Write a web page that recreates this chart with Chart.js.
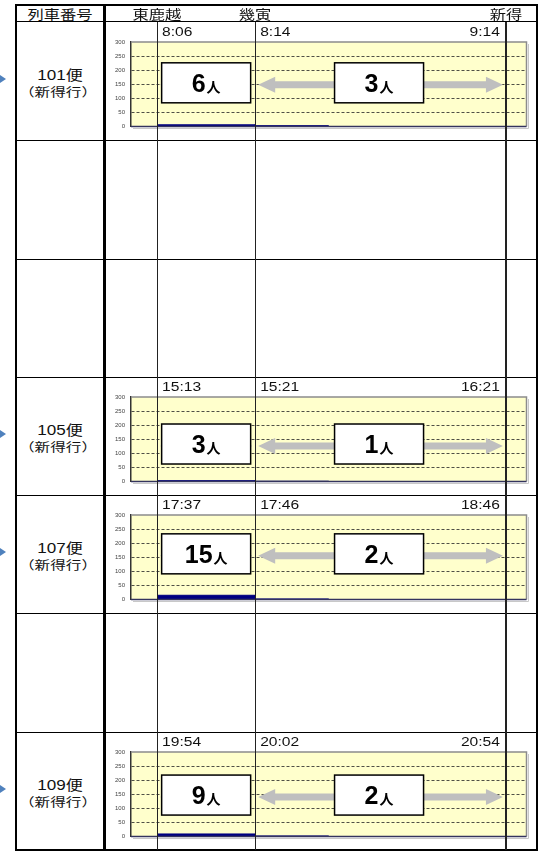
<!DOCTYPE html>
<html>
<head>
<meta charset="utf-8">
<script src="https://cdn.jsdelivr.net/npm/chart.js@4.4.1/dist/chart.umd.min.js"></script>
<style>
  body { margin: 0; background: #fff; width: 539px; height: 852px; overflow: hidden; position: relative;
         font-family: "Liberation Sans", "Noto Sans CJK JP", sans-serif; color: #111; }
  .ln { position: absolute; background: #000; }
  .txt { position: absolute; white-space: nowrap; transform: translate(-50%, -50%) scaleX(1.22); }
  .dir { font-family: "Noto Sans CJK JP", sans-serif; }
  canvas { position: absolute; }
  .tri { position: absolute; left: 0; width: 0; height: 0; border-top: 4px solid transparent;
         border-bottom: 4px solid transparent; border-left: 6px solid #4F81BD; }
</style>
</head>
<body>
<script>
// table content
const stations = ['東鹿越', '幾寅', '新得'];
const stationAxis = [6.6, 31.4, 94.8];      // where each station sits on the x axis
const rowTrains = ['101便', null, null, '105便', '107便', null, '109便'];
const direction = '（新得行）';

// per train: times at each station and riders on each leg
const times101 = ['8:06', '8:14', '9:14'];
const times105 = ['15:13', '15:21', '16:21'];
const times107 = ['17:37', '17:46', '18:46'];
const times109 = ['19:54', '20:02', '20:54'];
const riders101 = [6, 3];
const riders105 = [3, 1];
const riders107 = [15, 2];
const riders109 = [9, 2];
const barEdges = [6.6, 31.4, 50];           // bar extents along x
const yTicks = [0, 50, 100, 150, 200, 250, 300];

const trainData = {
  '101便': { times: times101, riders: riders101 },
  '105便': { times: times105, riders: riders105 },
  '107便': { times: times107, riders: riders107 },
  '109便': { times: times109, riders: riders109 }
};

// layout
const T = { left: 15, right: 538, top: 4, headBottom: 22, bottom: 851, col: 104 };
const rowH = (850 - 22) / 7;
const arrowLevel = { '101便': 148, '105便': 126, '107便': 155, '109便': 140 };

function add(cls, css, html) {
  const d = document.createElement('div');
  d.className = cls;
  Object.assign(d.style, css);
  if (html) d.innerHTML = html;
  document.body.appendChild(d);
  return d;
}

// frame of the table
add('ln', { left: T.left + 'px', top: T.top + 'px', width: (T.right - T.left) + 'px', height: '2px' });
add('ln', { left: T.left + 'px', top: (T.bottom - 2) + 'px', width: (T.right - T.left) + 'px', height: '2px' });
add('ln', { left: T.left + 'px', top: T.top + 'px', width: '2px', height: (T.bottom - T.top) + 'px' });
add('ln', { left: (T.right - 2) + 'px', top: T.top + 'px', width: '2px', height: (T.bottom - T.top) + 'px' });
add('ln', { left: (T.col - 1) + 'px', top: T.top + 'px', width: '2.5px', height: (T.bottom - T.top) + 'px' });
add('ln', { left: T.left + 'px', top: (T.headBottom - 1) + 'px', width: (T.right - T.left) + 'px', height: '1px' });
for (let k = 1; k < 7; k++) {
  add('ln', { left: T.left + 'px', top: Math.round(22 + k * rowH) + 'px', width: (T.right - T.left) + 'px', height: '1.2px' });
}
add('txt', { left: '60px', top: '13px', fontSize: '13px', transform: 'translate(-50%,-50%) scaleX(1.25)' }, '列車番号');

// white box label: big number + small 人
function boxLabel(ctx, n, cx, cy) {
  ctx.font = 'bold 25px "Liberation Sans"';
  const w1 = ctx.measureText(String(n)).width;
  ctx.font = 'bold 14px "Noto Sans CJK JP"';
  const w2 = ctx.measureText('人').width;
  const x0 = cx - (w1 + w2 + 1) / 2;
  ctx.fillStyle = '#000';
  ctx.textAlign = 'left';
  ctx.textBaseline = 'alphabetic';
  ctx.font = 'bold 25px "Liberation Sans"';
  ctx.fillText(String(n), x0, cy + 9);
  ctx.font = 'bold 14px "Noto Sans CJK JP"';
  ctx.fillText('人', x0 + w1 + 1, cy + 9);
}

function arrow(ctx, x1, x2, y) {
  const hl = 17, hh = 8, sh = 3.5;
  ctx.fillStyle = '#BFBFBF';
  ctx.beginPath();
  ctx.moveTo(x1, y);
  ctx.lineTo(x1 + hl, y - hh);
  ctx.lineTo(x1 + hl, y - sh);
  ctx.lineTo(x2 - hl, y - sh);
  ctx.lineTo(x2 - hl, y - hh);
  ctx.lineTo(x2, y);
  ctx.lineTo(x2 - hl, y + hh);
  ctx.lineTo(x2 - hl, y + sh);
  ctx.lineTo(x1 + hl, y + sh);
  ctx.lineTo(x1 + hl, y + hh);
  ctx.closePath();
  ctx.fill();
}

function stretchText(ctx, s, x, y, align, k) {
  ctx.save();
  ctx.translate(x, y);
  ctx.scale(k, 1);
  ctx.textAlign = align;
  ctx.fillText(s, 0, 0);
  ctx.restore();
}

const legPlugin = {
  id: 'legs',
  beforeDraw(chart) {
    const a = chart.chartArea, ctx = chart.ctx;
    ctx.save();
    ctx.fillStyle = '#FFFFCC';
    ctx.fillRect(a.left, a.top, a.right - a.left, a.bottom - a.top);
    ctx.restore();
  },
  afterDatasetsDraw(chart, args, opts) {
    const a = chart.chartArea, ctx = chart.ctx, x = chart.scales.x, y = chart.scales.y;
    ctx.save();
    // frame
    ctx.strokeStyle = '#C8C8C8';
    ctx.lineWidth = 1;
    ctx.beginPath();
    ctx.moveTo(a.right + 2, a.top + 2); ctx.lineTo(a.right + 2, a.bottom + 2); ctx.lineTo(a.left + 2, a.bottom + 2);
    ctx.stroke();
    ctx.strokeStyle = '#8C8C8C';
    ctx.lineWidth = 1.5;
    ctx.beginPath();
    ctx.moveTo(a.left, a.top); ctx.lineTo(a.right, a.top); ctx.lineTo(a.right, a.bottom);
    ctx.stroke();
    ctx.strokeStyle = '#34345E';
    ctx.beginPath();
    ctx.moveTo(a.left, a.bottom); ctx.lineTo(a.right, a.bottom);
    ctx.stroke();

    // arrows and rider boxes for each leg
    const ay = y.getPixelForValue(opts.level);
    const px = stationAxis.map(v => x.getPixelForValue(v));
    for (let i = 0; i < opts.riders.length; i++) arrow(ctx, px[i] + 3, px[i + 1] - 3, ay);
    for (let i = 0; i < opts.riders.length; i++) {
      const cx = (px[i] + px[i + 1]) / 2 - (i ? 1.5 : 0), cy = ay - 2;
      ctx.fillStyle = '#fff';
      ctx.fillRect(cx - 44.5, cy - 20, 89, 40);
      ctx.strokeStyle = '#000';
      ctx.lineWidth = 1.5;
      ctx.strokeRect(cx - 44.5, cy - 20, 89, 40);
      boxLabel(ctx, opts.riders[i], cx, cy);
    }

    // station times above the plot
    ctx.fillStyle = '#111';
    ctx.font = '12px "Liberation Sans"';
    ctx.textBaseline = 'middle';
    const ty = a.top - 9;
    stretchText(ctx, opts.times[0], px[0] + 5, ty, 'left', 1.3);
    stretchText(ctx, opts.times[1], px[1] + 5, ty, 'left', 1.3);
    stretchText(ctx, opts.times[2], px[2] - 6, ty, 'right', 1.3);
    ctx.restore();
  }
};

let firstChart = null, firstLeft = 0;

rowTrains.forEach((name, k) => {
  const top = 22 + k * rowH;
  if (!name) return;
  const d = trainData[name];
  add('tri', { top: (top + 53) + 'px' });
  add('txt', { left: '60px', top: (top + 52) + 'px', fontSize: '14px' }, name);
  add('txt dir', { left: '58px', top: (top + 69) + 'px', fontSize: '12px', transform: 'translate(-50%,-50%) scaleX(1.3)' }, direction);

  const pts = [];
  d.riders.forEach((v, i) => {
    pts.push({ x: barEdges[i], y: v });
    pts.push({ x: barEdges[i + 1], y: v });
  });

  const cv = document.createElement('canvas');
  cv.width = 432; cv.height = 118;
  cv.style.left = '105px'; cv.style.top = top + 'px';
  document.body.appendChild(cv);

  const chart = new Chart(cv, {
    type: 'line',
    data: {
      datasets: [{
        data: pts,
        fill: 'origin',
        backgroundColor: '#000080',
        borderColor: '#000080',
        borderWidth: 1,
        pointRadius: 0,
        tension: 0
      }]
    },
    options: {
      responsive: false,
      animation: false,
      events: [],
      layout: { padding: { top: 20, right: 10.5, bottom: 13.5, left: 0 } },
      plugins: {
        legend: { display: false },
        tooltip: { enabled: false },
        legs: { riders: d.riders, times: d.times, level: arrowLevel[name] }
      },
      scales: {
        x: { type: 'linear', min: 0, max: 100, display: false },
        y: {
          min: 0, max: 300,
          afterBuildTicks: s => { s.ticks = yTicks.map(v => ({ value: v })); },
          afterFit: s => { s.width = 26; },
          ticks: { font: { size: 6, family: 'Liberation Sans' }, color: '#444', padding: 6 },
          grid: {
            drawTicks: false,
            lineWidth: 0.8,
            color: c => (c.tick && (c.tick.value === 0 || c.tick.value === 300)) ? 'rgba(0,0,0,0)' : '#222'
          },
          border: { display: true, color: '#333', width: 1.5, dash: [3, 2] }
        }
      }
    },
    plugins: [legPlugin]
  });
  if (!firstChart) { firstChart = chart; firstLeft = 105; }
});

// station columns: lines and header names line up with the chart x axis
stations.forEach((s, i) => {
  const sx = firstLeft + firstChart.scales.x.getPixelForValue(stationAxis[i]);
  add('ln', { left: (sx - 0.5) + 'px', top: T.headBottom + 'px', width: '1.2px', height: (850 - T.headBottom) + 'px', background: '#222', zIndex: 5 });
  add('txt', { left: sx + 'px', top: '13px', fontSize: '13px', transform: 'translate(-50%,-50%) scaleX(1.25)' }, s);
});
</script>
</body>
</html>
